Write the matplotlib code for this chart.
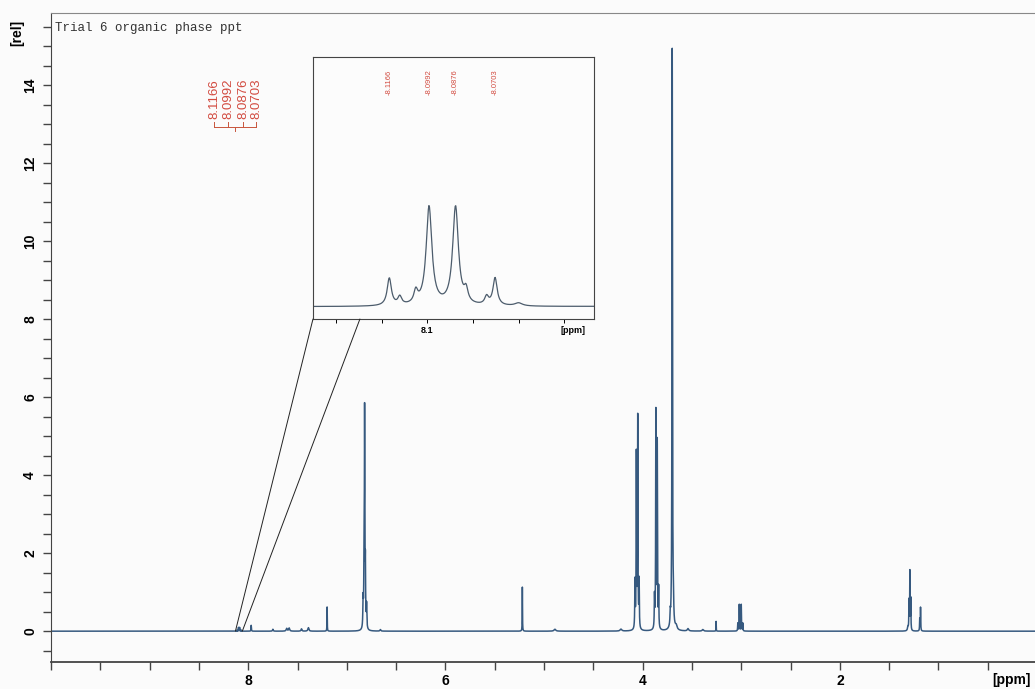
#1H NMR spectrum "Trial 6 organic phase ppt" with a zoom inset of the 8.1 ppm multiplet
import numpy as np
import matplotlib.pyplot as plt
from matplotlib.patches import ConnectionPatch
from matplotlib.ticker import MultipleLocator

# peak list: position [ppm], height [rel], half width [ppm]
peak_ppm = [8.1166, 8.0992, 8.0876, 8.0703, 8.1120, 8.1050, 8.0830, 8.0740, 8.0600,
            7.97, 7.75, 7.61, 7.585, 7.46, 7.39, 7.20,
            6.835, 6.826, 6.820, 6.812, 6.800, 6.66, 5.22, 4.89, 4.22,
            4.078, 4.064, 4.050, 4.036, 3.880, 3.866, 3.852, 3.838,
            3.720, 3.700, 3.688, 3.66, 3.54, 3.39, 3.255,
            3.035, 3.020, 3.000, 2.985,
            1.310, 1.299, 1.290, 1.281, 1.190, 1.182]
peak_height = [0.027, 0.097, 0.097, 0.027, 0.008, 0.012, 0.012, 0.008, 0.003,
               0.15, 0.05, 0.07, 0.08, 0.06, 0.09, 0.62,
               0.7, 1.6, 5.45, 1.5, 0.6, 0.04, 1.13, 0.05, 0.05,
               1.2, 4.45, 5.4, 1.2, 0.8, 5.55, 4.75, 1.0,
               0.3, 14.9, 0.5, 0.1, 0.06, 0.04, 0.25,
               0.2, 0.68, 0.68, 0.2,
               0.1, 0.75, 1.5, 0.8, 0.3, 0.6]
peak_hwhm = [0.0011, 0.0015, 0.0015, 0.0011, 0.001, 0.001, 0.001, 0.001, 0.002,
             0.002, 0.004, 0.006, 0.006, 0.005, 0.006, 0.0015,
             0.003, 0.0025, 0.0025, 0.0025, 0.003, 0.005, 0.0015, 0.01, 0.01,
             0.0025, 0.0025, 0.0025, 0.0025, 0.0025, 0.0025, 0.0025, 0.0025,
             0.003, 0.003, 0.003, 0.01, 0.008, 0.008, 0.0012,
             0.002, 0.002, 0.002, 0.002,
             0.005, 0.002, 0.002, 0.002, 0.002, 0.002]

# labelled peaks of the multiplet
labels_ppm = [8.1166, 8.0992, 8.0876, 8.0703]

ppm = np.linspace(10, 0, 40001)
spec = np.zeros_like(ppm)
for p, h, w in zip(peak_ppm, peak_height, peak_hwhm):
    spec += h / (1 + ((ppm - p) / w) ** 2)

line_col = '#36597f'
red = '#d24b40'
plt.rcParams['font.family'] = ['Liberation Sans', 'DejaVu Sans']

fig = plt.figure(figsize=(10.35, 6.89), dpi=100, facecolor='#fbfbfb')
ax = fig.add_axes([0.0493, 0.0392, 0.9527, 0.9419])
ax.set_facecolor('#fbfbfb')
ax.plot(ppm, spec, color=line_col, linewidth=1.1)
ax.set_xlim(10, 0)
ax.set_ylim(-0.79, 15.85)

ax.xaxis.set_major_locator(MultipleLocator(2))
ax.xaxis.set_minor_locator(MultipleLocator(0.5))
ax.yaxis.set_major_locator(MultipleLocator(2))
ax.yaxis.set_minor_locator(MultipleLocator(0.5))
ax.tick_params(which='both', direction='out', length=6, width=1, color='#444')
ax.tick_params(axis='x', pad=3, labelsize=10)
ax.tick_params(axis='y', pad=4, labelsize=10)
ax.set_yticks(range(0, 16, 2))
ax.set_yticklabels([str(v) for v in range(0, 16, 2)], rotation=90, va='center', fontweight='bold')
ax.set_xticks(range(0, 11, 2))
ax.set_xticklabels([str(v) if 0 < v < 10 else '' for v in range(0, 11, 2)], fontweight='bold')
ax.spines['right'].set_visible(False)
ax.spines['left'].set_color('#444')
ax.spines['bottom'].set_color('#444')
ax.spines['bottom'].set_linewidth(1.3)
ax.spines['top'].set_color('#888')

ax.text(-0.034, 0.969, '[rel]', transform=ax.transAxes, rotation=90, ha='center', va='center',
        fontsize=10, fontweight='bold')
ax.text(0.974, -0.027, '[ppm]', transform=ax.transAxes, ha='center', va='center',
        fontsize=10, fontweight='bold')
ax.text(0.004, 0.977, 'Trial 6 organic phase ppt', transform=ax.transAxes, ha='left', va='center',
        fontsize=9, family='Liberation Mono', color='#333')

# peak labels and bracket above the multiplet
label_x = [8.345, 8.203, 8.05, 7.92]
for lx, v in zip(label_x, labels_ppm):
    ax.text(lx, 13.12, f'{v:.4f}', rotation=90, ha='center', va='bottom',
            fontsize=9.5, color=red)
    ax.plot([lx, lx], [12.92, 13.05], color='#c8553d', linewidth=0.7)
ax.plot([label_x[0], label_x[-1]], [12.92, 12.92], color='#c8553d', linewidth=0.7)
ax.plot([8.13, 8.13], [12.92, 12.82], color='#c8553d', linewidth=0.7)

# inset with the expanded multiplet
ax_in = fig.add_axes([0.3024, 0.537, 0.2715, 0.3803])
ax_in.set_facecolor('#fcfcfc')
ax_in.plot(ppm, spec, color='#4c5c6c', linewidth=0.9)
ax_in.set_xlim(8.150, 8.027)
ax_in.set_ylim(-0.012, 0.245)
ax_in.set_yticks([])
ax_in.set_xticks([8.1])
ax_in.set_xticklabels(['8.1'], fontsize=6.5, fontweight='bold')
ax_in.xaxis.set_minor_locator(MultipleLocator(0.02))
ax_in.tick_params(which='both', direction='out', length=3, width=0.7, pad=2)
for s in ax_in.spines.values():
    s.set_color('#444')
    s.set_linewidth(0.8)
ax_in.text(0.925, -0.025, '[ppm]', transform=ax_in.transAxes, ha='center', va='top',
           fontsize=6.5, fontweight='bold')
for v in labels_ppm:
    ax_in.text(v, 0.855, f'-{v:.4f}', transform=ax_in.get_xaxis_transform(), rotation=90,
               ha='center', va='bottom', fontsize=5.5, color=red)

# lines joining the baseline region to the inset
for xa, xb in [(8.13, 0.0), (8.06, 0.167)]:
    con = ConnectionPatch(xyA=(xa, 0.0), coordsA=ax.transData,
                          xyB=(xb, 0.0), coordsB=ax_in.transAxes,
                          color='#222', linewidth=0.7)
    fig.add_artist(con)

plt.savefig('out.png', dpi=100, facecolor=fig.get_facecolor())
